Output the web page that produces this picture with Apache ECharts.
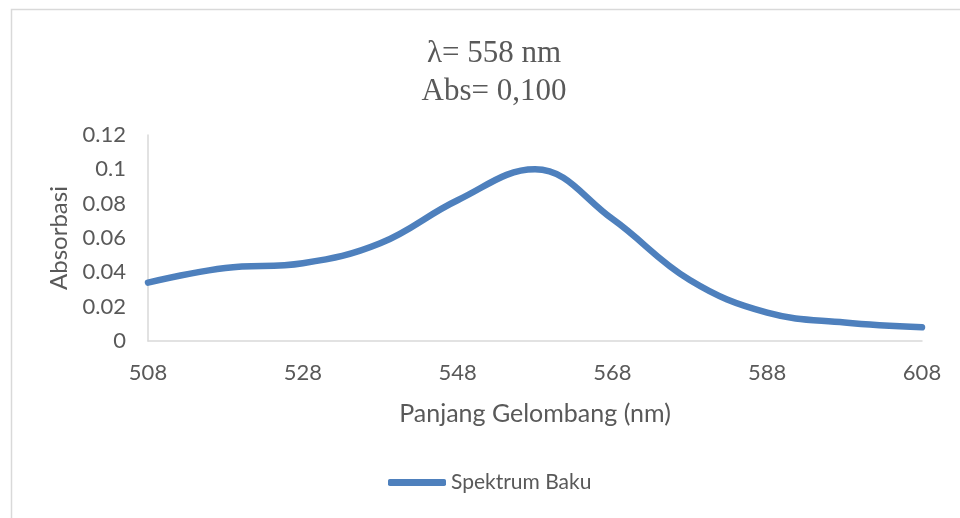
<!DOCTYPE html>
<html>
<head>
<meta charset="utf-8">
<script src="https://cdn.jsdelivr.net/npm/echarts@6/dist/echarts.min.js"></script>
<style>html,body{margin:0;padding:0;background:#fff}#c{width:960px;height:518px}</style>
</head>
<body>
<div id="c"></div>
<script>
const wavelengths = ['508','518','528','538','548','558','568','578','588','598','608'];
const absorbance = [0.034, 0.0425, 0.0453, 0.0569, 0.082, 0.100, 0.0711, 0.0355, 0.0165, 0.0108, 0.008];
const titleLines = ['λ= 558 nm', 'Abs= 0,100'];
const seriesName = 'Spektrum Baku';

const chart = echarts.init(document.getElementById('c'));
const grey = '#595959';
chart.setOption({
  animation: false,
  graphic: [{
    type: 'rect', left: 9, top: 7, shape: {width: 1000, height: 600},
    style: {fill: 'none', stroke: '#d9d9d9', lineWidth: 1.5}, silent: true, z: -1
  }],
  title: {
    text: titleLines.join('\n'),
    left: 489, top: 30, textAlign: 'center',
    textStyle: {fontFamily: 'Liberation Serif', fontSize: 31, fontWeight: 'normal', color: grey, lineHeight: 38}
  },
  legend: {
    bottom: 20, left: 383,
    itemWidth: 58, itemHeight: 7, itemGap: 10,
    icon: 'roundRect',
    textStyle: {fontFamily: 'Lato', fontSize: 21, color: grey},
    data: [seriesName]
  },
  grid: {left: 148, right: 38, top: 135, bottom: 177},
  xAxis: {
    type: 'category', data: wavelengths, boundaryGap: false,
    name: 'Panjang Gelombang (nm)', nameLocation: 'middle', nameGap: 60,
    nameTextStyle: {fontFamily: 'Lato', fontSize: 25, color: grey},
    axisLine: {lineStyle: {color: '#d9d9d9', width: 1.5}},
    axisTick: {show: false},
    axisLabel: {interval: 1, fontFamily: 'Lato', fontSize: 22, color: grey, margin: 21},
    splitLine: {show: false}
  },
  yAxis: {
    type: 'value', min: 0, max: 0.12, interval: 0.02,
    name: 'Absorbasi', nameLocation: 'middle', nameGap: 76,
    nameTextStyle: {fontFamily: 'Lato', fontSize: 24, color: grey},
    axisLine: {show: true, lineStyle: {color: '#d9d9d9', width: 1.5}},
    axisTick: {show: false},
    axisLabel: {fontFamily: 'Lato', fontSize: 22, color: grey, margin: 22,
      formatter: v => String(+v.toFixed(2))},
    splitLine: {show: false}
  },
  series: [{
    name: seriesName, type: 'line', data: absorbance,
    smooth: 0.4, showSymbol: false, symbol: 'none',
    lineStyle: {color: '#4e80bd', width: 6.5, cap: 'round'},
    itemStyle: {color: '#4e80bd'}
  }]
});
</script>
</body>
</html>
